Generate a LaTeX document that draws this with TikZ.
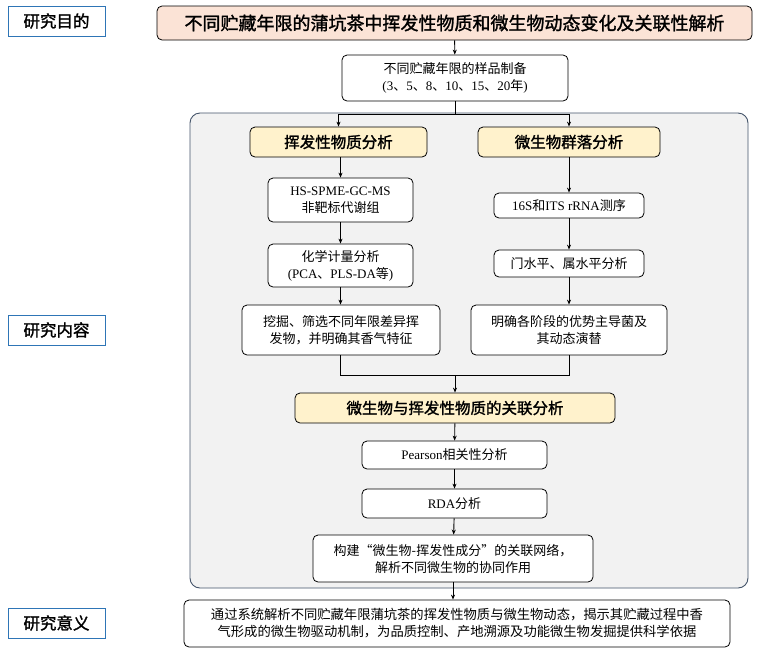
\documentclass[tikz,border=0pt]{standalone}
\usepackage{fontspec}
\setmainfont{Liberation Serif}
\newfontfamily\cjk{Noto Sans CJK SC}
\newfontfamily\cjkb{Noto Sans CJK SC}[FakeBold=1.5]
\usetikzlibrary{arrows.meta}
\definecolor{pinkf}{HTML}{FBE3D6}
\definecolor{yelf}{HTML}{FFF2CC}
\definecolor{grayf}{HTML}{F2F2F2}
\definecolor{bluel}{HTML}{2E75B6}
\definecolor{cont}{HTML}{44546A}
\begin{document}
\begin{tikzpicture}[x=1pt,y=-1pt,
  box/.style={draw=black,line width=0.8pt,rounded corners=5pt,fill=white,align=center,font=\fontsize{13}{17}\selectfont,inner sep=0pt},
  ybox/.style={box,fill=yelf,font=\fontsize{15.5}{17}\cjkb},
  lab/.style={draw=bluel,line width=1pt,fill=white,font=\fontsize{16.5}{18}\cjkb,inner sep=0pt,minimum width=97pt,minimum height=30pt},
  arr/.style={-{Stealth[length=5pt,width=4pt]},line width=0.9pt},
  ln/.style={line width=0.9pt}]
\useasboundingbox (0,0) rectangle (761,657);
\fill[white] (0,0) rectangle (761,657);
\node[lab] (l1) at (56.5,21) {研究目的};
\node[lab] (l2) at (56.5,330) {研究内容};
\node[lab] (l3) at (56.5,623) {研究意义};
\draw[cont,fill=grayf,line width=0.9pt,rounded corners=10pt] (190,113) rectangle (748,588);
\node[box,fill=pinkf,minimum width=595pt,minimum height=34pt,font=\fontsize{18}{20}\cjkb] (t) at (454.5,23) {不同贮藏年限的蒲坑茶中挥发性物质和微生物动态变化及关联性解析};
\node[box,minimum width=226pt,minimum height=46pt] (s) at (455,78) {{\cjk 不同贮藏年限的样品制备}\\({3\cjk 、}5{\cjk 、}8{\cjk 、}10{\cjk 、}15{\cjk 、}20{\cjk 年})};
\node[ybox,minimum width=177pt,minimum height=30pt] (y1) at (338.5,142) {挥发性物质分析};
\node[ybox,minimum width=182pt,minimum height=30pt] (y2) at (569,142) {微生物群落分析};
\node[box,minimum width=145pt,minimum height=44pt] (a1) at (340.5,200) {HS-SPME-GC-MS\\{\cjk 非靶标代谢组}};
\node[box,minimum width=145pt,minimum height=43pt] (a2) at (340.5,265.5) {{\cjk 化学计量分析}\\(PCA{\cjk 、}PLS-DA{\cjk 等})};
\node[box,minimum width=198pt,minimum height=50pt,font=\fontsize{13}{17}\cjk] (a3) at (341,330) {挖掘、筛选不同年限差异挥\\发物，并明确其香气特征};
\node[box,minimum width=150pt,minimum height=25pt] (b1) at (569,205.5) {16S{\cjk 和}ITS rRNA{\cjk 测序}};
\node[box,minimum width=150pt,minimum height=27pt,font=\fontsize{13}{17}\cjk] (b2) at (569,263.5) {门水平、属水平分析};
\node[box,minimum width=196pt,minimum height=50pt,font=\fontsize{13}{17}\cjk] (b3) at (569,330) {明确各阶段的优势主导菌及\\其动态演替};
\node[ybox,minimum width=320pt,minimum height=30pt] (y3) at (455,408) {微生物与挥发性物质的关联分析};
\node[box,minimum width=185pt,minimum height=28pt] (p) at (454.5,455) {Pearson{\cjk 相关性分析}};
\node[box,minimum width=185pt,minimum height=29pt] (r) at (454.5,503.5) {RDA{\cjk 分析}};
\node[box,minimum width=280pt,minimum height=47pt,font=\fontsize{13}{17}\cjk] (c) at (453,558.5) {构建“微生物-挥发性成分”的关联网络，\\解析不同微生物的协同作用};
\node[box,minimum width=546pt,minimum height=47pt,font=\fontsize{13.3}{17}\cjk] (e) at (457,623.5) {通过系统解析不同贮藏年限蒲坑茶的挥发性物质与微生物动态，揭示其贮藏过程中香\\气形成的微生物驱动机制，为品质控制、产地溯源及功能微生物发掘提供科学依据};
\coordinate (sp) at (455,114);
\coordinate (mg) at (455,375);
\draw[arr] (t) -- (s);
\draw[ln] (s) -- (sp);
\draw[arr] (sp) -| (y1);
\draw[arr] (sp) -| (y2);
\draw[arr] (y1.south -| a1) -- (a1);
\draw[arr] (a1) -- (a2);
\draw[arr] (a2) -- (a3.north -| a2);
\draw[arr] (y2) -- (b1);
\draw[arr] (b1) -- (b2);
\draw[arr] (b2) -- (b3);
\draw[ln] (a3.south -| a2) |- (mg);
\draw[ln] (b3) |- (mg);
\draw[arr] (mg) -- (y3);
\draw[arr] (y3) -- (p);
\draw[arr] (p) -- (r);
\draw[arr] (r) -- (c);
\draw[arr] (c) -- (c.south |- e.north);
\end{tikzpicture}
\end{document}
